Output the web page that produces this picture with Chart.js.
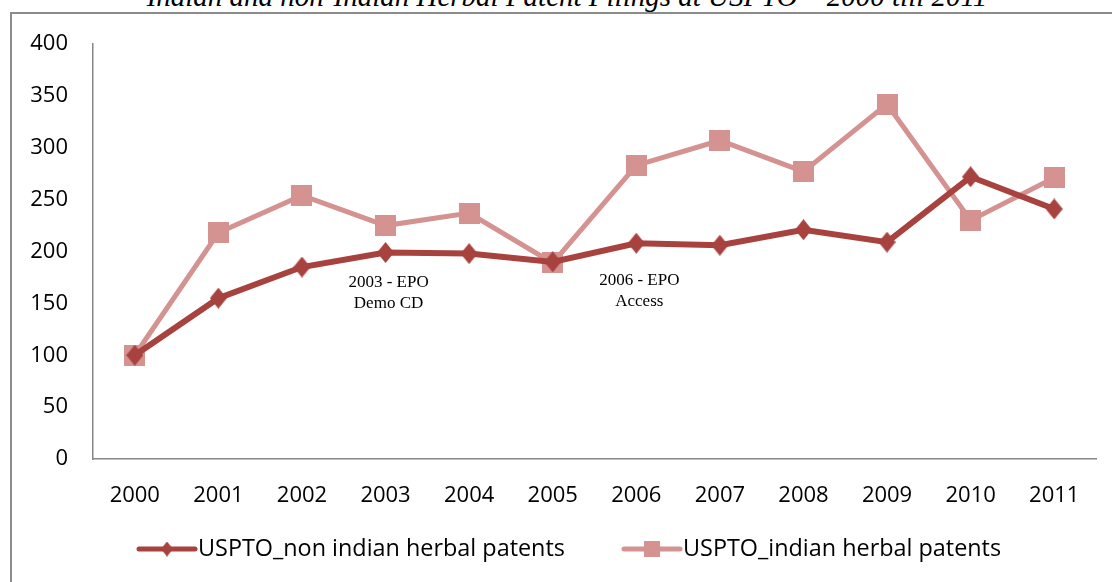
<!DOCTYPE html>
<html>
<head>
<meta charset="utf-8">
<script src="https://cdn.jsdelivr.net/npm/chart.js@4.4.0/dist/chart.umd.min.js"></script>
<style>
  html, body { margin: 0; padding: 0; background: #fff; }
  body { width: 1112px; height: 582px; position: relative; overflow: hidden; }
  #title {
    position: absolute; left: 11px; top: -20px; width: 1112px; line-height: 29px;
    text-align: center; white-space: nowrap; color: #000;
    font: italic 29px "Liberation Serif", "DejaVu Serif", serif;
  }
  #frame {
    position: absolute; left: 10px; top: 12px; width: 1120px; height: 600px;
    border-left: 2px solid #8c8c8c; border-top: 2px solid #8c8c8c;
  }
  #chart { position: absolute; left: 0; top: 0; }
</style>
</head>
<body>
<div id="title">Indian and non-Indian Herbal Patent Filings at USPTO – 2000 till 2011</div>
<div id="frame"></div>
<canvas id="chart" width="1112" height="582"></canvas>
<script>
const years = ["2000", "2001", "2002", "2003", "2004", "2005", "2006", "2007", "2008", "2009", "2010", "2011"];
const nonIndianPatents = [100, 155, 185, 199, 198, 190, 208, 206, 221, 209, 272, 241];
const indianPatents = [100, 218, 254, 225, 237, 189, 283, 307, 277, 342, 230, 271];
const seriesNames = ["USPTO_non indian herbal patents", "USPTO_indian herbal patents"];
const notes = [
  { year: "2003", value: 170, lines: ["2003 - EPO", "Demo CD"] },
  { year: "2006", value: 172, lines: ["2006 - EPO", "Access"] },
];

const DARK = "#a7423f";
const LIGHT = "#d49391";
const AXIS = "#868686";

// markers as small canvases so the diamond can be taller than wide
function makeMarker(kind, w, h, color) {
  const c = document.createElement("canvas");
  c.width = w;
  c.height = h;
  const ctx = c.getContext("2d");
  ctx.fillStyle = color;
  if (kind === "diamond") {
    ctx.beginPath();
    ctx.moveTo(w / 2, 0);
    ctx.lineTo(w, h / 2);
    ctx.lineTo(w / 2, h);
    ctx.lineTo(0, h / 2);
    ctx.closePath();
    ctx.fill();
  } else {
    ctx.fillRect(0, 0, w, h);
  }
  return c;
}

const diamond = makeMarker("diamond", 17, 21, DARK);
const square = makeMarker("square", 21, 21, LIGHT);
const legendDiamond = makeMarker("diamond", 12, 15, DARK);
const legendSquare = makeMarker("square", 16, 16, LIGHT);

const notesPlugin = {
  id: "notes",
  afterDatasetsDraw(chart) {
    const { ctx, scales } = chart;
    ctx.save();
    ctx.fillStyle = "#000";
    ctx.font = '17px "Liberation Serif", serif';
    ctx.textAlign = "center";
    ctx.textBaseline = "middle";
    notes.forEach((n) => {
      const x = scales.x.getPixelForValue(years.indexOf(n.year));
      const y = scales.y.getPixelForValue(n.value);
      n.lines.forEach((line, i) => ctx.fillText(line, x + 3, y + i * 21));
    });
    ctx.restore();
  },
};

const legendPlugin = {
  id: "lineLegend",
  afterDraw(chart) {
    const { ctx } = chart;
    const y = 549;
    const starts = [139, 624];
    const marks = [legendDiamond, legendSquare];
    ctx.save();
    ctx.font = '23.4px "Open Sans", sans-serif';
    ctx.textBaseline = "middle";
    ctx.textAlign = "left";
    chart.data.datasets.forEach((ds, i) => {
      const x0 = starts[i];
      ctx.strokeStyle = ds.borderColor;
      ctx.lineWidth = 5;
      ctx.lineCap = "round";
      ctx.beginPath();
      ctx.moveTo(x0, y);
      ctx.lineTo(x0 + 56, y);
      ctx.stroke();
      const m = marks[i];
      ctx.drawImage(m, x0 + 28 - m.width / 2, y - m.height / 2);
      ctx.fillStyle = "#000";
      ctx.fillText(ds.label, x0 + 59, y);
    });
    ctx.restore();
  },
};

new Chart(document.getElementById("chart"), {
  type: "line",
  data: {
    labels: years,
    datasets: [
      {
        label: seriesNames[0],
        data: nonIndianPatents,
        borderColor: DARK,
        backgroundColor: DARK,
        borderWidth: 6,
        pointStyle: diamond,
        pointRadius: 10,
        tension: 0,
      },
      {
        label: seriesNames[1],
        data: indianPatents,
        borderColor: LIGHT,
        backgroundColor: LIGHT,
        borderWidth: 5,
        pointStyle: square,
        pointRadius: 10,
        tension: 0,
      },
    ],
  },
  options: {
    responsive: false,
    animation: false,
    events: [],
    layout: { padding: { top: 44, right: 13, left: 0, bottom: 0 } },
    plugins: {
      legend: { display: false },
      tooltip: { enabled: false },
    },
    scales: {
      x: {
        offset: true,
        grid: { display: false, drawTicks: false },
        border: { color: AXIS, width: 1.5 },
        ticks: {
          color: "#000",
          padding: 24,
          font: { family: '"Open Sans", sans-serif', size: 22 },
        },
        afterFit(scale) {
          scale.height = 123;
        },
      },
      y: {
        min: 0,
        max: 400,
        grid: { display: false, drawTicks: false },
        border: { color: AXIS, width: 1.5 },
        ticks: {
          stepSize: 50,
          color: "#000",
          padding: 25,
          font: { family: '"Open Sans", sans-serif', size: 22 },
        },
        afterFit(scale) {
          scale.width = 93;
        },
      },
    },
  },
  plugins: [notesPlugin, legendPlugin],
});
</script>
</body>
</html>
